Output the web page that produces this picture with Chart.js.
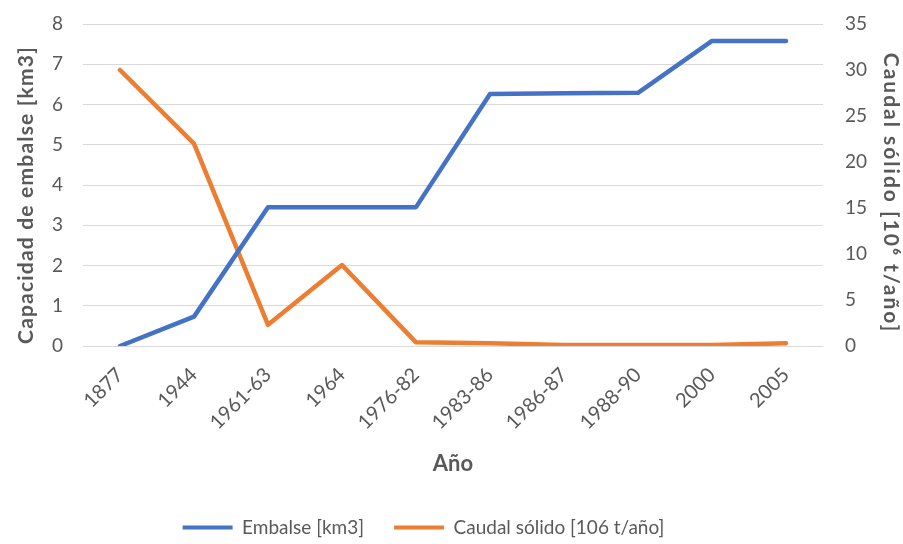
<!DOCTYPE html>
<html>
<head>
<meta charset="utf-8">
<script src="https://cdn.jsdelivr.net/npm/chart.js@4/dist/chart.umd.min.js"></script>
<style>
  html, body { margin: 0; padding: 0; background: #ffffff; }
  #wrap { width: 903px; height: 544px; }
</style>
</head>
<body>
<div id="wrap"><canvas id="line-chart" width="903" height="544"></canvas></div>
<script>
// Years / periods on the x axis
let years = ["1877", "1944", "1961-63", "1964", "1976-82", "1983-86", "1986-87", "1988-90", "2000", "2005"];

// Reservoir capacity, km3 (left axis)
let embalse = [0, 0.73, 3.45, 3.45, 3.45, 6.26, 6.28, 6.29, 7.58, 7.58];

// Sediment load, 10^6 t/year (right axis)
let caudalSolido = [30, 22, 2.3, 8.8, 0.4, 0.3, 0.1, 0.1, 0.1, 0.3];

let grey = '#595959';
let fontFamily = 'Lato, "Open Sans", sans-serif';

// Tweaks for the built-in boxes: spaced-out vertical titles, and a legend
// that sits lower and a little left of centre.
let layoutTweaks = {
    id: 'layoutTweaks',
    beforeLayout: function (chart) {
        let legend = chart.legend;
        if (legend && !legend._patched) {
            legend._patched = true;
            let fit = legend.fit;
            legend.fit = function () {
                fit.apply(this, arguments);
                this.height = 56;
            };
            let draw = legend.draw;
            legend.draw = function () {
                let ctx = this.ctx;
                ctx.save();
                ctx.translate(-28, 0);
                draw.apply(this, arguments);
                ctx.restore();
            };
        }
    },
    afterLayout: function (chart) {
        // [scale id, letter spacing, downward shift]
        [['y', '1.2px', 10], ['y2', '2px', 8]].forEach(function (t) {
            let scale = chart.scales[t[0]];
            if (scale && !scale._patched) {
                scale._patched = true;
                let drawTitle = scale.drawTitle;
                scale.drawTitle = function () {
                    let ctx = this.ctx;
                    ctx.save();
                    ctx.letterSpacing = t[1];
                    ctx.translate(0, t[2]);
                    drawTitle.apply(this, arguments);
                    ctx.restore();
                };
            }
        });
    }
};

// fixed width for the side axes, and only half a label of room above the top tick
function sideAxisFit(width) {
    return function (scale) {
        scale.width = width;
        scale.paddingTop = 12;
    };
}

let canvasElement = document.getElementById('line-chart');

let config = {
    type: 'line',
    data: {
        labels: years,
        datasets: [
            {
                label: "Embalse [km3]",
                data: embalse,
                yAxisID: 'y',
                borderColor: '#4472C4',
                backgroundColor: '#4472C4',
                borderWidth: 4.5,
                pointRadius: 0,
                tension: 0,
                borderJoinStyle: 'round',
                borderCapStyle: 'round'
            },
            {
                label: "Caudal sólido [106 t/año]",
                data: caudalSolido,
                yAxisID: 'y2',
                borderColor: '#ED7D31',
                backgroundColor: '#ED7D31',
                borderWidth: 4.5,
                pointRadius: 0,
                tension: 0,
                borderJoinStyle: 'round',
                borderCapStyle: 'round'
            }
        ]
    },
    options: {
        responsive: false,
        animation: false,
        layout: { padding: { top: 24, left: 0, right: 0, bottom: 0 } },
        plugins: {
            tooltip: { enabled: false },
            legend: {
                position: 'bottom',
                labels: {
                    color: grey,
                    font: { family: fontFamily, size: 19 },
                    boxWidth: 50,
                    boxHeight: 4,
                    padding: 30,
                    // flat coloured bars instead of outlined boxes
                    generateLabels: function (chart) {
                        let items = Chart.defaults.plugins.legend.labels.generateLabels(chart);
                        items.forEach(function (it) { it.lineWidth = 0; });
                        return items;
                    }
                }
            }
        },
        scales: {
            x: {
                offset: true,
                grid: { display: false, drawTicks: false },
                border: { display: false },
                ticks: {
                    color: grey,
                    font: { family: fontFamily, size: 20 },
                    minRotation: 45,
                    maxRotation: 45,
                    padding: 17,
                    autoSkip: false
                },
                title: {
                    display: true,
                    text: 'Año',
                    color: grey,
                    font: { family: fontFamily, size: 22, weight: 'bold' },
                    padding: { top: 4, bottom: 11 }
                },
                afterFit: function (scale) { scale.height = 142; }
            },
            y: {
                position: 'left',
                min: 0,
                max: 8,
                grid: { color: '#d9d9d9', lineWidth: 1, drawTicks: false },
                border: { display: false },
                ticks: {
                    stepSize: 1,
                    color: grey,
                    padding: 20,
                    font: { family: fontFamily, size: 19 }
                },
                title: {
                    display: true,
                    text: 'Capacidad de embalse [km3]',
                    color: grey,
                    font: { family: fontFamily, size: 21, weight: 'bold' },
                    padding: { top: 14, bottom: 4 }
                },
                afterFit: sideAxisFit(83)
            },
            y2: {
                position: 'right',
                min: 0,
                max: 35,
                grid: { display: false, drawTicks: false },
                border: { display: false },
                ticks: {
                    stepSize: 5,
                    color: grey,
                    padding: 22,
                    font: { family: fontFamily, size: 19 }
                },
                title: {
                    display: true,
                    text: 'Caudal sólido [10⁶ t/año]',
                    color: grey,
                    font: { family: fontFamily, size: 21, weight: 'bold' },
                    padding: { top: 0, bottom: 4 }
                },
                afterFit: sideAxisFit(80)
            }
        }
    },
    plugins: [layoutTweaks]
};

let lineChart = new Chart(canvasElement, config);
</script>
</body>
</html>
